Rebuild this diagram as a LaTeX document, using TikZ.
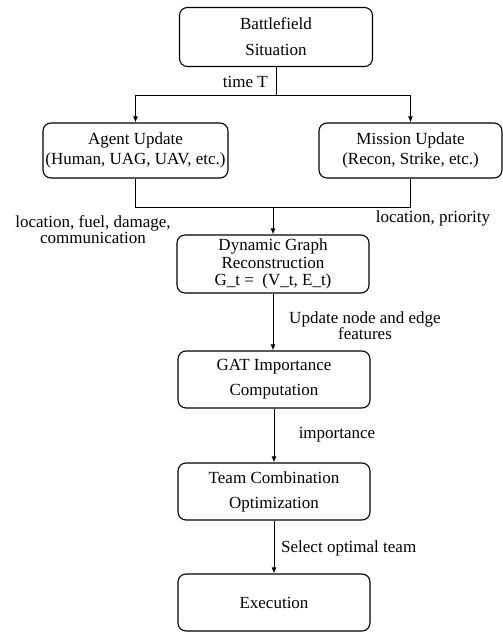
\documentclass[tikz,border=0pt]{standalone}
\usepackage{fontspec}
\setmainfont{Liberation Serif}
\usetikzlibrary{arrows.meta}
\begin{document}
\begin{tikzpicture}[x=1pt,y=-1pt,
  box/.style={draw, line width=1.1pt, rounded corners=8pt, inner sep=0pt, align=center},
  conn/.style={line width=1pt},
  arr/.style={conn, -{Latex[length=6pt,width=5pt]}},
  lbl/.style={inner sep=0pt, align=center}]
\useasboundingbox (0,0) rectangle (503,632);
\node[box, minimum width=193pt, minimum height=59pt, font=\fontsize{17}{26}\selectfont] (bf) at (276,37) {Battlefield\\Situation};
\node[box, minimum width=185pt, minimum height=55pt, font=\fontsize{17}{20}\selectfont] (agent) at (135.5,150.5) {Agent Update\\(Human, UAG, UAV, etc.)};
\node[box, minimum width=183pt, minimum height=55pt, font=\fontsize{17}{20}\selectfont] (mission) at (410.5,150.5) {Mission Update\\(Recon, Strike, etc.)};
\node[box, minimum width=192pt, minimum height=58pt, font=\fontsize{17}{17.5}\selectfont] (dyn) at (273,264) {Dynamic Graph\\Reconstruction\\G\_t =\ \ (V\_t, E\_t)};
\node[box, minimum width=192pt, minimum height=57pt, font=\fontsize{17}{25}\selectfont] (gat) at (274,379.5) {GAT Importance\\Computation};
\node[box, minimum width=192pt, minimum height=57pt, font=\fontsize{17}{25}\selectfont] (team) at (274,491.5) {Team Combination\\Optimization};
\node[box, minimum width=192pt, minimum height=57pt, font=\fontsize{17}{25}\selectfont] (exec) at (274,602.5) {Execution};

\coordinate (split) at (276,95);
\coordinate (sl) at (agent.north |- split);
\coordinate (sr) at (mission.north |- split);
\coordinate (join) at (273,207);
\coordinate (jl) at (agent.south |- join);
\coordinate (jr) at (mission.south |- join);

\draw[conn] (bf.south) -- (split);
\draw[conn] (sl) -- (sr);
\draw[arr] (sl) -- (agent.north);
\draw[arr] (sr) -- (mission.north);
\draw[conn] (agent.south) -- (jl) -- (jr) -- (mission.south);
\draw[arr] (join) -- (dyn.north);
\draw[arr] (dyn.south) -- (gat.north -| dyn.south);
\draw[arr] (gat.south) -- (team.north);
\draw[arr] (team.south) -- (exec.north);

\node[lbl, anchor=east, font=\fontsize{17}{17}\selectfont] (lt) at (268,82) {time T};
\node[lbl, font=\fontsize{17}{16}\selectfont] (ll) at (93,230) {location, fuel, damage,\\communication};
\node[lbl, font=\fontsize{17}{16}\selectfont] (lr) at (433,218) {location, priority};
\node[lbl, font=\fontsize{17}{16}\selectfont] (lu) at (365,326) {Update node and edge\\features};
\node[lbl, font=\fontsize{17}{17}\selectfont] (li) at (337,435) {importance};
\node[lbl, anchor=west, font=\fontsize{17}{17}\selectfont] (ls) at (281,548) {Select optimal team};
\end{tikzpicture}
\end{document}
